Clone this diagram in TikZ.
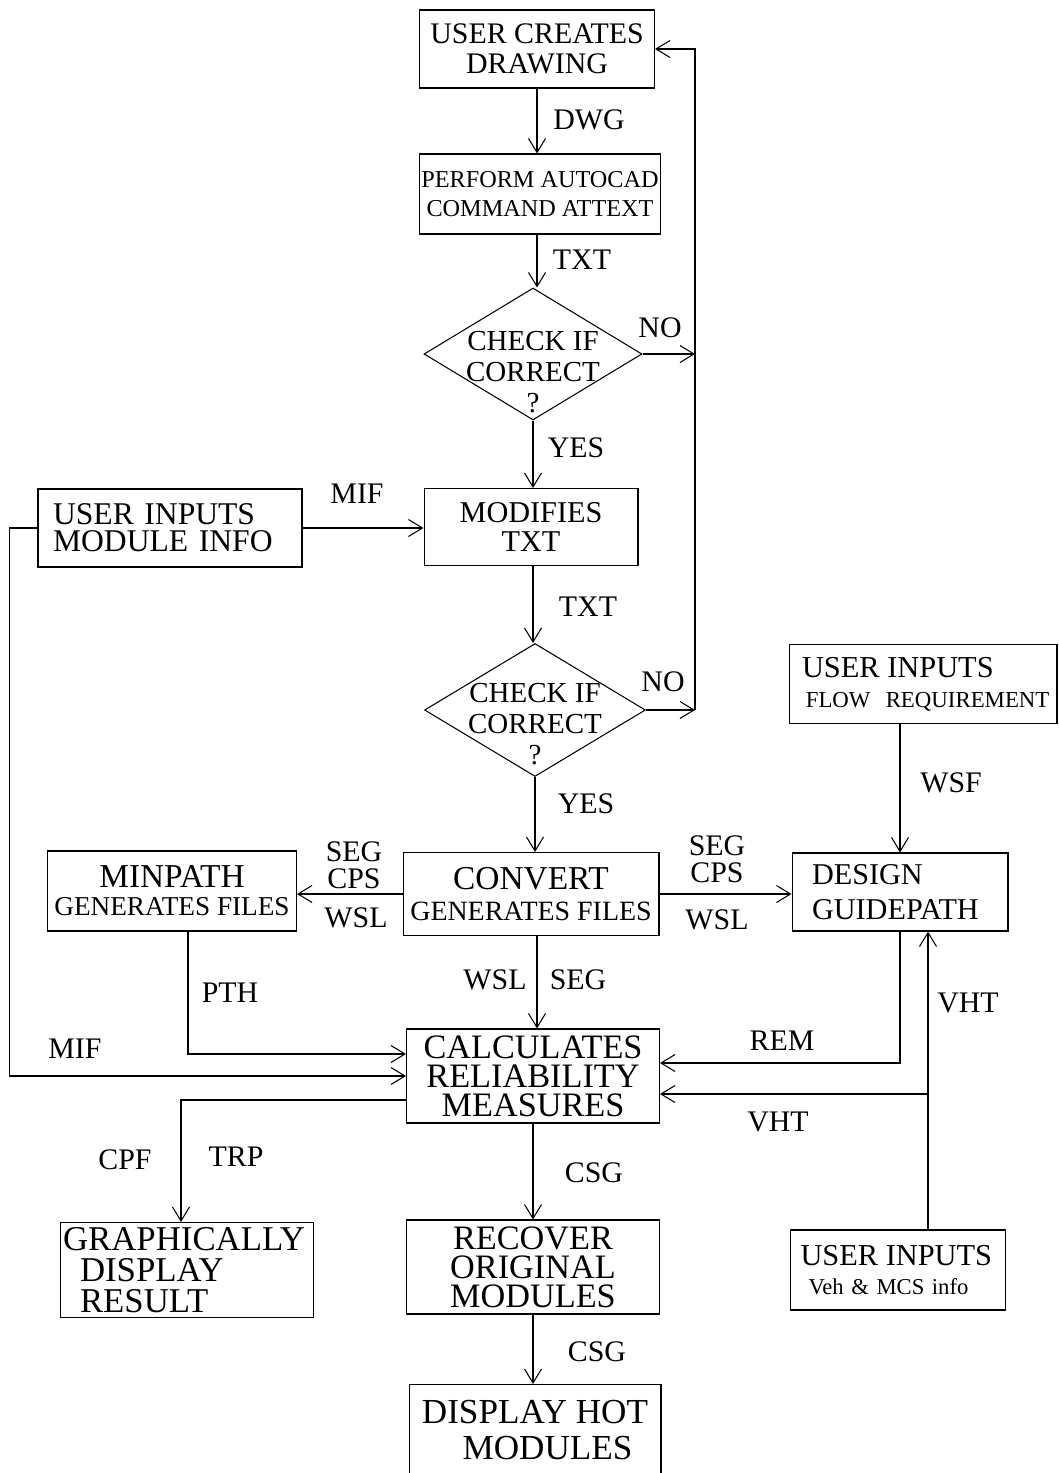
\documentclass[tikz,border=0pt]{standalone}
\usepackage{fontspec}
\setmainfont{Liberation Serif}
\usetikzlibrary{shapes.geometric,arrows.meta}

\begin{document}
\begin{tikzpicture}[
        x=0.02cm, y=-0.02cm,
        every node/.style={align=center},
        box/.style={draw, rectangle, inner sep=0pt, line width=0.6pt},
        lbox/.style={box, align=left, inner ysep=0pt},
        check/.style={draw, diamond, inner sep=0pt, line width=0.6pt},
        lbl/.style={inner sep=0pt, font=\fontsize{17}{15.5}\selectfont},
        arr/.style={-{Straight Barb[length=2.8mm,width=3.4mm]}, line width=0.6pt}
    ]
    \useasboundingbox (0,0) rectangle (1058,1473);

    \node[box, minimum width=4.70cm, minimum height=1.56cm, font=\fontsize{17}{17}\selectfont] (drawing) at (537,49) {USER CREATES\\DRAWING};
    \node[box, minimum width=4.82cm, minimum height=1.60cm, font=\fontsize{13.8}{16.5}\selectfont] (autocad) at (540,194) {PERFORM AUTOCAD\\COMMAND ATTEXT};
    \node[check, minimum width=4.36cm, minimum height=2.64cm] (chka) at (533,354) {};
    \node[font=\fontsize{16.5}{17.5}\selectfont, inner sep=0pt] (chkatxt) at (533,372) {CHECK IF\\CORRECT\\?};
    \node[box, minimum width=4.28cm, minimum height=1.54cm, font=\fontsize{17.2}{17}\selectfont] (modifies) at (531,527) {MODIFIES\\TXT};
    \node[check, minimum width=4.42cm, minimum height=2.66cm] (chkb) at (535,710) {};
    \node[font=\fontsize{16.5}{17.5}\selectfont, inner sep=0pt] (chkbtxt) at (535,724) {CHECK IF\\CORRECT\\?};
    \node[lbox, text width=4.68cm, inner xsep=0.30cm, minimum height=1.56cm, font=\fontsize{18}{15.5}\selectfont] (modinfo) at (170,528) {USER INPUTS\\MODULE INFO};

    \node[box, minimum width=4.98cm, minimum height=1.60cm, font=\fontsize{15.5}{16}\selectfont] (minpath) at (172,891) {{\fontsize{19}{16}\selectfont MINPATH}\\GENERATES FILES};
    \node[box, minimum width=5.12cm, minimum height=1.66cm, font=\fontsize{15.9}{18}\selectfont] (convert) at (531,894) {{\fontsize{19}{18}\selectfont CONVERT}\\GENERATES FILES};
    \node[lbox, text width=3.52cm, inner xsep=0.40cm, minimum height=1.56cm, font=\fontsize{17.2}{20}\selectfont] (design) at (900,892) {DESIGN\\GUIDEPATH};
    \node[lbox, text width=4.84cm, inner xsep=0.26cm, minimum height=1.58cm, font=\fontsize{13}{17}\selectfont] (flowreq) at (923,684) {{\fontsize{17.3}{17}\selectfont USER INPUTS}\\\mbox{\,FLOW~~REQUIREMENT}};

    \node[box, minimum width=5.06cm, minimum height=1.88cm, font=\fontsize{19.5}{16.6}\selectfont] (calc) at (533,1076) {CALCULATES\\RELIABILITY\\MEASURES};
    \node[lbox, text width=4.96cm, inner xsep=0.05cm, minimum height=1.90cm, font=\fontsize{19.8}{17.5}\selectfont] (graph) at (187,1270) {GRAPHICALLY\\\hspace*{0.34cm}DISPLAY\\\hspace*{0.34cm}RESULT};
    \node[box, minimum width=5.06cm, minimum height=1.88cm, font=\fontsize{19.5}{16.6}\selectfont] (recover) at (533,1267) {RECOVER\\ORIGINAL\\MODULES};
    \node[box, minimum width=5.04cm, minimum height=1.82cm, font=\fontsize{20}{20}\selectfont] (hot) at (535,1430) {DISPLAY HOT\\\hspace*{0.5cm}MODULES};
    \node[lbox, text width=3.90cm, inner xsep=0.20cm, minimum height=1.60cm, font=\fontsize{12.9}{16.5}\selectfont] (veh) at (898,1270) {{\fontsize{17.3}{16.5}\selectfont USER INPUTS}\\\hspace*{0.16cm}Veh \& MCS info};

    \node[lbl] (dwg) at (589,120) {DWG};
    \node[lbl] (txta) at (582,260) {TXT};
    \node[lbl] (noa) at (660,328) {NO};
    \node[lbl] (yesa) at (576,448) {YES};
    \node[lbl] (mifa) at (357,494) {MIF};
    \node[lbl] (txtb) at (588,607) {TXT};
    \node[lbl] (nob) at (663,682) {NO};
    \node[lbl] (yesb) at (586,804) {YES};
    \node[lbl] (segl) at (354,865) {SEG\\CPS};
    \node[lbl] (wsll) at (356,918) {WSL};
    \node[lbl] (segr) at (717,859) {SEG\\CPS};
    \node[lbl] (wslr) at (717,920) {WSL};
    \node[lbl] (wsf) at (951,783) {WSF};
    \node[lbl] (wslc) at (495,980) {WSL};
    \node[lbl] (segc) at (578,980) {SEG};
    \node[lbl] (pth) at (230,993) {PTH};
    \node[lbl] (mifb) at (75,1049) {MIF};
    \node[lbl] (rem) at (782,1041) {REM};
    \node[lbl] (vhta) at (968,1003) {VHT};
    \node[lbl] (vhtb) at (778,1122) {VHT};
    \node[lbl] (cpf) at (125,1160) {CPF};
    \node[lbl] (trp) at (236,1157) {TRP};
    \node[lbl] (csga) at (594,1173) {CSG};
    \node[lbl] (csgb) at (597,1352) {CSG};

    \coordinate (loopx) at (695,0);
    \coordinate (vhtx) at ([xshift=0.6cm]veh.north);
    \coordinate (pthin) at ([yshift=0.44cm]calc.west);
    \coordinate (remin) at ([yshift=0.26cm]calc.east);
    \coordinate (vhtin) at ([yshift=-0.36cm]calc.east);
    \coordinate (cpfout) at ([yshift=-0.48cm]calc.west);

    \draw[arr] (drawing.south) -- (drawing.south |- autocad.north);
    \draw[arr] (drawing.south |- autocad.south) -- (drawing.south |- chka.north);
    \draw[arr] (chka.east) -- (chka.east -| loopx);
    \draw[arr] (chka.south) -- (chka.south |- modifies.north);
    \draw[arr] (modinfo.east) -- (modinfo.east -| modifies.west);
    \draw[arr] (chka.south |- modifies.south) -- (chka.south |- chkb.north);
    \draw[arr] (chkb.east) -- (chkb.east -| loopx);
    \draw[arr] (chkb.east -| loopx) |- (drawing.east);
    \draw[arr] (chkb.south) -- (chkb.south |- convert.north);
    \draw[arr] (convert.west) -- (convert.west -| minpath.east);
    \draw[arr] (convert.east) -- (convert.east -| design.west);
    \draw[arr] (design.north |- flowreq.south) -- (design.north);
    \draw[arr] ([xshift=0.12cm]convert.south) -- ([xshift=0.12cm]convert.south |- calc.north);
    \draw[arr] ([xshift=0.32cm]minpath.south) |- (pthin);
    \draw[arr] (modinfo.west) -- ++(-28,0) |- (calc.west);
    \draw[arr] (design.south) |- (remin);
    \draw[arr] (vhtx) -- (vhtx |- design.south);
    \draw[arr] (vhtx |- vhtin) -- (vhtin);
    \draw[arr] (cpfout) -| ([xshift=-0.12cm]graph.north);
    \draw[arr] (calc.south) -- (calc.south |- recover.north);
    \draw[arr] (recover.south) -- (recover.south |- hot.north);
\end{tikzpicture}
\end{document}
